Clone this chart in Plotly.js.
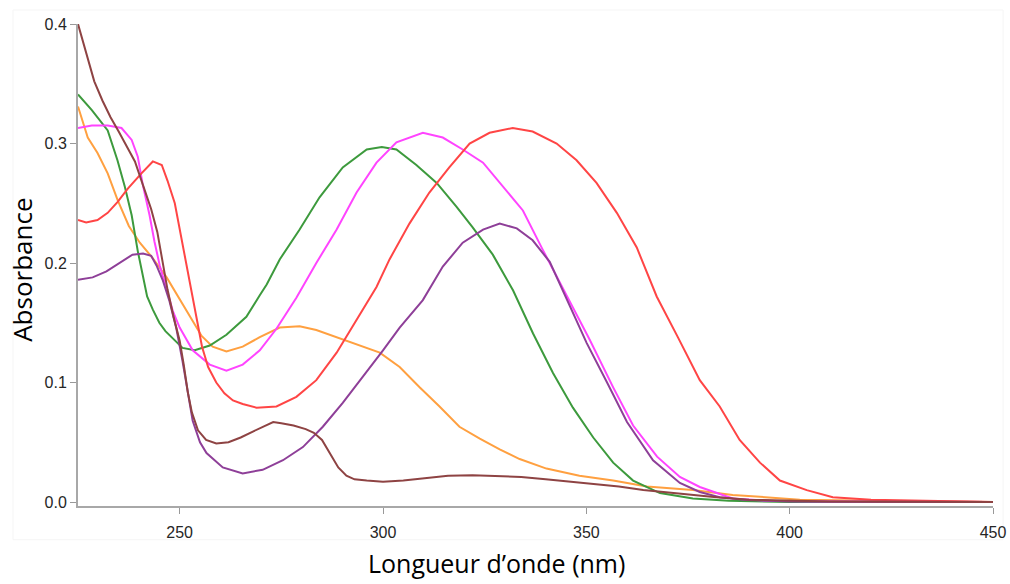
<!DOCTYPE html>
<html>
<head>
<meta charset="utf-8">
<script src="https://cdn.plot.ly/plotly-3.0.1.min.js"></script>
<style>html,body{margin:0;padding:0;background:#fff;}#chart{width:1010px;height:584px;}</style>
</head>
<body>
<div id="chart"></div>
<script>
// Wavelengths (nm) and absorbance values
const wlBrown = [225,227,229,231,233,235,237,239,241,243,244.5,245.8,247,248.5,250,251,252,253,254.5,256.5,259,262,265,268,271,273,275,278,281,283,285,287,289,291,293,296,300,305,310,316,322,328,334,340,346,352,358,364,370,376,382,390,400,410,425,450];
const absBrown = [0.400,0.375,0.352,0.336,0.322,0.310,0.298,0.285,0.265,0.245,0.226,0.200,0.178,0.155,0.135,0.115,0.092,0.075,0.060,0.052,0.049,0.050,0.054,0.059,0.064,0.067,0.066,0.064,0.061,0.058,0.052,0.040,0.029,0.022,0.019,0.018,0.017,0.018,0.020,0.022,0.0225,0.022,0.021,0.019,0.017,0.015,0.013,0.010,0.008,0.006,0.004,0.002,0.001,0.0005,0.0002,0.0];

const wlGreen = [225,228.4,232.3,234.7,236.5,238.2,239.7,240.9,242,243.4,245,246.5,248.3,250.7,253.7,257.4,261.5,266.4,269.7,271.4,274.6,279.5,284.4,290.1,296,299.7,303.3,308.2,313.2,318.1,322,327,332,336.9,341.8,346.7,351.7,356.6,361.5,368.1,376.2,385,400,450];
const absGreen = [0.341,0.328,0.311,0.286,0.264,0.240,0.210,0.190,0.172,0.161,0.150,0.143,0.137,0.129,0.127,0.131,0.140,0.155,0.173,0.182,0.203,0.228,0.255,0.280,0.295,0.297,0.295,0.282,0.267,0.247,0.230,0.207,0.177,0.141,0.108,0.079,0.054,0.033,0.018,0.0075,0.003,0.001,0.0,0.0];

const wlMagenta = [225,228.4,232.3,235.7,238.2,239.7,240.9,242.6,243.8,245.1,246.8,248.3,250,253.2,257.4,261.5,265.5,269.7,273.8,278.7,283.6,288.6,293.5,298.4,303.3,309.8,314.7,319.6,324.6,329.5,334.4,339.3,345.2,350.8,356.6,361.5,367.4,373,377.9,386,395,410,450];
const absMagenta = [0.313,0.315,0.315,0.313,0.303,0.289,0.266,0.240,0.218,0.198,0.178,0.160,0.146,0.127,0.115,0.110,0.115,0.127,0.145,0.171,0.200,0.228,0.259,0.284,0.301,0.309,0.305,0.295,0.284,0.264,0.244,0.211,0.173,0.136,0.096,0.064,0.038,0.021,0.0126,0.003,0.001,0.0005,0.0];

const wlOrange = [225,227.4,229.8,232.3,234.7,237.5,240.2,243.4,246.8,250.3,253.2,255.4,258.1,261.5,265.5,269.7,274.6,279.5,283.6,288.6,294.3,299.2,304.1,309,313.9,318.8,323.8,328.7,333.6,340.2,348.3,356.6,364.9,376.2,386,402.5,420,450];
const absOrange = [0.331,0.305,0.292,0.275,0.253,0.231,0.217,0.204,0.188,0.168,0.152,0.139,0.130,0.126,0.130,0.138,0.146,0.147,0.144,0.138,0.131,0.125,0.113,0.096,0.080,0.063,0.053,0.044,0.036,0.028,0.022,0.018,0.013,0.010,0.006,0.002,0.001,0.0];

const wlRed = [225,227,229.8,232.3,234.7,237.2,240.6,243.4,245.6,247,248.8,250,251.2,252.4,254.1,255.5,257,259,261,263.1,265.5,268.9,273.8,278.7,283.6,288.6,293.5,298.4,301.6,306.5,311.4,316.3,321.3,326.2,331.9,336.8,342.7,347.6,352.5,357.5,362.4,367.3,372.5,377.9,382.8,387.7,392.7,397.6,404.2,410.6,420,435,450];
const absRed = [0.236,0.234,0.236,0.242,0.251,0.262,0.275,0.285,0.282,0.269,0.250,0.228,0.208,0.183,0.155,0.130,0.113,0.100,0.091,0.085,0.082,0.079,0.080,0.088,0.102,0.125,0.152,0.180,0.203,0.233,0.259,0.280,0.300,0.309,0.313,0.310,0.300,0.286,0.267,0.242,0.213,0.172,0.138,0.102,0.080,0.052,0.033,0.018,0.010,0.004,0.002,0.001,0.0];

const wlPurple = [225,228.6,232,235.2,238.4,241,243,244.3,245.8,247.5,249.2,250.7,252,253.2,255,256.6,260.6,265.5,270.4,275.4,280.3,285.2,290.1,295.1,300,304.1,309.8,314.7,319.6,324.6,328.7,332.9,336.8,341,345.2,350.1,355.1,360,366.4,373,377.9,382.8,389.4,400,450];
const absPurple = [0.186,0.188,0.193,0.200,0.207,0.208,0.206,0.198,0.186,0.168,0.145,0.118,0.090,0.068,0.050,0.041,0.029,0.024,0.027,0.035,0.046,0.063,0.083,0.105,0.127,0.146,0.169,0.197,0.217,0.228,0.233,0.229,0.219,0.201,0.169,0.133,0.100,0.067,0.035,0.016,0.0084,0.004,0.0017,0.0005,0.0];

const xTickVals = [250,300,350,400,450];
const yTickVals = [0.0,0.1,0.2,0.3,0.4];
const xTitle = "Longueur d\u2019onde (nm)";
const yTitle = "Absorbance";

const series = [
  {name:"orange", x:wlOrange, y:absOrange, color:"#ffa040"},
  {name:"green", x:wlGreen, y:absGreen, color:"#3d9a3d"},
  {name:"magenta", x:wlMagenta, y:absMagenta, color:"#ff44ff"},
  {name:"red", x:wlRed, y:absRed, color:"#ff4545"},
  {name:"purple", x:wlPurple, y:absPurple, color:"#8e3f98"},
  {name:"brown", x:wlBrown, y:absBrown, color:"#8e4343"}
];

const traces = series.map(s => ({
  type:"scatter", mode:"lines", name:s.name, x:s.x, y:s.y,
  line:{color:s.color, width:2},
  hoverinfo:"x+y"
}));

const axisFont = {family:"Liberation Sans, Arial, sans-serif", size:16, color:"#262626"};

const layout = {
  width:1010, height:584,
  margin:{l:78, r:17, t:24, b:78},
  paper_bgcolor:"#ffffff", plot_bgcolor:"#ffffff",
  showlegend:false,
  xaxis:{
    range:[225,450], tickvals:xTickVals, ticks:"outside", ticklen:6, tickwidth:1, tickcolor:"#999999",
    showline:true, linecolor:"#a8a8a8", linewidth:2, showgrid:false, zeroline:false,
    tickfont:axisFont, ticklabelstandoff:5
  },
  yaxis:{
    range:[-0.0033,0.4], tickvals:yTickVals, tickformat:".1f", ticks:"outside", ticklen:6, tickwidth:1, tickcolor:"#999999",
    showline:true, linecolor:"#a8a8a8", linewidth:2, showgrid:false, zeroline:false,
    tickfont:axisFont
  },
  shapes:[
    {type:"rect", xref:"paper", yref:"paper", x0:-0.071, x1:1.011, y0:-0.07, y1:1.029,
     line:{color:"#f5f5f5", width:1}, layer:"below"}
  ],
  annotations:[
    {text:yTitle, xref:"paper", yref:"paper", x:-0.0612, y:0.49, xanchor:"center", yanchor:"middle",
     textangle:-90, showarrow:false, font:{family:"Open Sans, sans-serif", size:26, color:"#000000"}},
    {text:xTitle, xref:"paper", yref:"paper", x:0.457, y:-0.118, xanchor:"center", yanchor:"middle",
     showarrow:false, font:{family:"Open Sans, sans-serif", size:25, color:"#000000"}}
  ]
};

Plotly.newPlot("chart", traces, layout, {displayModeBar:false, staticPlot:true});
</script>
</body>
</html>
